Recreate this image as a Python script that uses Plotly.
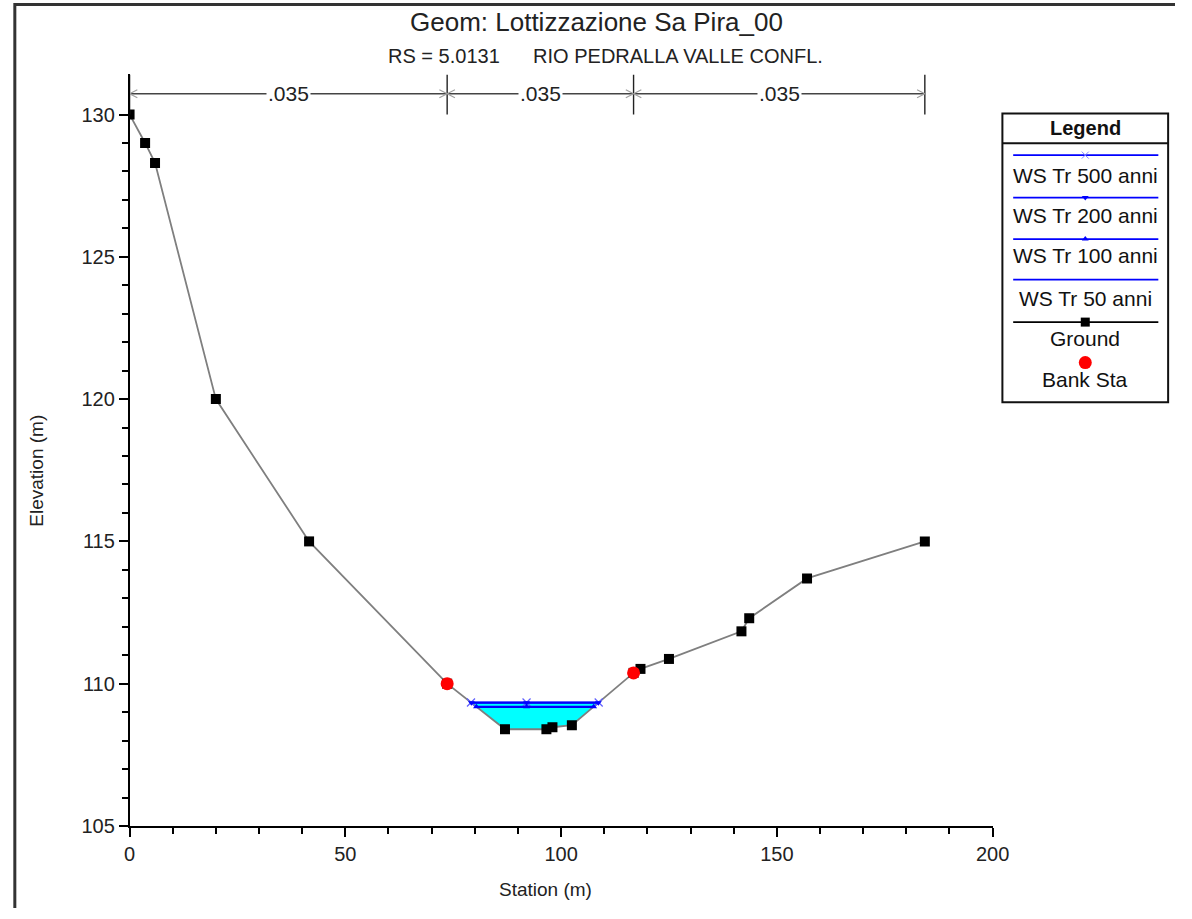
import numpy as np
import plotly.graph_objects as go

# ---- cross-section data -------------------------------------------------
ground_station = [0.0, 3.6, 5.9, 20.0, 41.6, 73.6, 87.0, 96.6, 98.0, 102.5,
                  116.8, 118.4, 125.0, 141.8, 143.6, 157.0, 184.3]
ground_elev = [130.0, 129.0, 128.3, 120.0, 115.0, 110.0, 108.4, 108.4, 108.47,
               108.54, 110.38, 110.52, 110.87, 111.84, 112.3, 113.7, 115.0]

bank_station = [73.6, 116.8]

# water surface elevations per return period
ws_names = ["WS Tr 500 anni", "WS Tr 200 anni", "WS Tr 100 anni", "WS Tr 50 anni"]
ws_elev = [109.34, 109.33, 109.19, 109.18]
ws_symbol = ["x-thin-open", "triangle-down", "triangle-up", None]
ws_mid_station = 92.0

# Manning's n zones
n_bounds = [0.0, 73.6, 116.8, 184.3]
n_values = [0.035, 0.035, 0.035]
n_line_elev = 130.73

title_text = "Geom: Lottizzazione Sa Pira_00"
subtitle_text = "RS = 5.0131      RIO PEDRALLA VALLE CONFL."

FONT = "Liberation Sans, Arial, Helvetica, sans-serif"
W, H = 1192, 919

# plot area in pixels
PX0, PX1 = 126, 1006
PY_TOP, PY_BOT = 75, 836
Y_MIN, Y_MAX = 105.0, 131.42

gs = np.array(ground_station)
ge = np.array(ground_elev)


def ws_edges(z):
    """Left/right stations where the water level z meets the ground."""
    i0 = int(np.argmin(ge))
    i = i0
    while ge[i] < z:
        i -= 1
    xl = gs[i] + (z - ge[i]) * (gs[i + 1] - gs[i]) / (ge[i + 1] - ge[i])
    j = i0
    while ge[j] < z:
        j += 1
    xr = gs[j - 1] + (z - ge[j - 1]) * (gs[j] - gs[j - 1]) / (ge[j] - ge[j - 1])
    return xl, xr, i, j


fig = go.Figure()

# water area (highest profile)
z_top = max(ws_elev)
xl, xr, il, jr = ws_edges(z_top)
fx = [xl] + list(gs[il + 1:jr]) + [xr]
fy = [z_top] + list(ge[il + 1:jr]) + [z_top]
fig.add_trace(go.Scatter(x=fx + [xl], y=fy + [z_top], mode="lines", fill="toself",
                         fillcolor="#00FFFF", line=dict(width=0), hoverinfo="skip",
                         showlegend=False))

# ground line
fig.add_trace(go.Scatter(x=ground_station, y=ground_elev, mode="lines+markers",
                         line=dict(color="#7f7f7f", width=1.8),
                         marker=dict(symbol="square", size=10, color="black"),
                         showlegend=False))

# water surface profiles
for name, z, sym in zip(ws_names, ws_elev, ws_symbol):
    a, b, _, _ = ws_edges(z)
    if sym == "x-thin-open":
        mk = dict(symbol=sym, size=8, color="#6060ff", line=dict(width=1.2, color="#6060ff"))
    elif sym:
        mk = dict(symbol=sym, size=6, color="#0000FF")
    else:
        mk = dict(size=1, opacity=0)
    fig.add_trace(go.Scatter(x=[a, ws_mid_station, b], y=[z, z, z],
                             mode="lines+markers" if sym else "lines",
                             line=dict(color="#0000FF", width=2),
                             marker=mk, name=name, showlegend=False))

# bank stations
bank_elev = list(np.interp(bank_station, gs, ge))
fig.add_trace(go.Scatter(x=bank_station, y=bank_elev, mode="markers",
                         marker=dict(symbol="circle", size=13, color="#FF0000"),
                         showlegend=False))

# Manning's n line with zone boundaries and arrowheads
fig.add_trace(go.Scatter(x=[n_bounds[0], n_bounds[-1]], y=[n_line_elev] * 2,
                         mode="lines", line=dict(color="#444", width=1.4),
                         cliponaxis=False, showlegend=False, hoverinfo="skip"))
vx, vy = [], []
for b in n_bounds:
    vx += [b, b, None]
    vy += [130.0, 131.4, None]
fig.add_trace(go.Scatter(x=vx, y=vy, mode="lines", line=dict(color="#222", width=1.4),
                         cliponaxis=False, showlegend=False, hoverinfo="skip"))
ax_, ay_ = [], []
dx, dy = 1.8, 0.14
for k, b in enumerate(n_bounds):
    if k > 0:  # arrow pointing right into the boundary
        ax_ += [b - dx, b, b - dx, None]
        ay_ += [n_line_elev + dy, n_line_elev, n_line_elev - dy, None]
    if k < len(n_bounds) - 1:  # arrow pointing left into the boundary
        ax_ += [b + dx, b, b + dx, None]
        ay_ += [n_line_elev + dy, n_line_elev, n_line_elev - dy, None]
fig.add_trace(go.Scatter(x=ax_, y=ay_, mode="lines", line=dict(color="#a0a0a0", width=1.2),
                         cliponaxis=False, showlegend=False, hoverinfo="skip"))

annotations = []
for a, b, n in zip(n_bounds[:-1], n_bounds[1:], n_values):
    annotations.append(dict(x=(a + b) / 2, y=n_line_elev, xref="x", yref="y",
                            text=f"{n:.3f}".lstrip("0"), showarrow=False,
                            font=dict(family=FONT, size=21, color="#222"),
                            bgcolor="white", borderpad=1))

# ---- legend panel (pixel coordinates on a full-page helper axis) ---------
LX0, LX1, LY0, LY1 = 1016, 1185, 115, 407
LXC = (LX0 + LX1) / 2
leg_items = [
    ("WS Tr 500 anni", 157, 178, "#0000FF", "x-thin-open"),
    ("WS Tr 200 anni", 200, 218, "#0000FF", "triangle-down"),
    ("WS Tr 100 anni", 242, 259, "#0000FF", "triangle-up"),
    ("WS Tr 50 anni", 283, 302, "#0000FF", None),
    ("Ground", 326, 343, "black", "square"),
    ("Bank Sta", None, 384, None, "circle"),
]
for label, ly, ty, col, sym in leg_items:
    if ly is not None:
        fig.add_trace(go.Scatter(x=[1027, 1175], y=[ly, ly], mode="lines",
                                 line=dict(color=col, width=1.6), xaxis="x2", yaxis="y2",
                                 showlegend=False, hoverinfo="skip"))
    if sym == "x-thin-open":
        mk = dict(symbol=sym, size=7, color="#8080ff", line=dict(width=1, color="#8080ff"))
    elif sym == "square":
        mk = dict(symbol="square", size=9, color="black")
    elif sym == "circle":
        mk = dict(symbol="circle", size=13, color="#FF0000")
        ly = 367
    elif sym:
        mk = dict(symbol=sym, size=6, color="#0000FF")
    if sym:
        fig.add_trace(go.Scatter(x=[LXC], y=[ly], mode="markers", marker=mk,
                                 xaxis="x2", yaxis="y2", showlegend=False, hoverinfo="skip"))
    annotations.append(dict(x=LXC / W, y=1 - ty / H, xref="paper", yref="paper",
                            text=label, showarrow=False, xanchor="center", yanchor="middle",
                            font=dict(family=FONT, size=21, color="#111")))
annotations.append(dict(x=LXC / W, y=1 - 130 / H, xref="paper", yref="paper",
                        text="<b>Legend</b>", showarrow=False, xanchor="center",
                        yanchor="middle", font=dict(family=FONT, size=20, color="#111")))

# titles
annotations += [
    dict(x=602 / W, y=1 - 22 / H, xref="paper", yref="paper", text=title_text,
         showarrow=False, xanchor="center", yanchor="middle",
         font=dict(family=FONT, size=26, color="#222")),
    dict(x=611 / W, y=1 - 57 / H, xref="paper", yref="paper", text=subtitle_text,
         showarrow=False, xanchor="center", yanchor="middle",
         font=dict(family=FONT, size=20, color="#222")),
    dict(x=550 / W, y=1 - 900 / H, xref="paper", yref="paper", text="Station (m)",
         showarrow=False, xanchor="center", yanchor="middle",
         font=dict(family=FONT, size=19, color="#222")),
    dict(x=31 / W, y=1 - 476 / H, xref="paper", yref="paper", text="Elevation (m)",
         showarrow=False, textangle=-90, xanchor="center", yanchor="middle",
         font=dict(family=FONT, size=19, color="#222")),
]


def px_x(p):
    return p / W


def px_y(p):
    return 1 - p / H


shapes = [
    # legend frame and header separator
    dict(type="rect", xref="paper", yref="paper", x0=px_x(LX0), x1=px_x(LX1),
         y0=px_y(LY1), y1=px_y(LY0), line=dict(color="#111", width=2)),
    dict(type="line", xref="paper", yref="paper", x0=px_x(LX0), x1=px_x(LX1),
         y0=px_y(145), y1=px_y(145), line=dict(color="#111", width=2)),
    # outer frame (left and top edges)
    dict(type="path", xref="paper", yref="paper",
         path=f"M {px_x(9)},{px_y(919)} L {px_x(9)},{px_y(4.5)} L {px_x(1192)},{px_y(4.5)}",
         line=dict(color="#333", width=3)),
]

axis_font = dict(family=FONT, size=20, color="#222")
fig.update_layout(
    width=W, height=H,
    margin=dict(l=0, r=0, t=0, b=0),
    paper_bgcolor="white", plot_bgcolor="rgba(0,0,0,0)",
    showlegend=False,
    xaxis=dict(domain=[PX0 / W, PX1 / W], range=[0, 200], tickvals=[0, 50, 100, 150, 200],
               showgrid=False, zeroline=False, showline=True, linecolor="black", linewidth=1.5,
               ticks="outside", ticklen=9, tickwidth=1.5, tickcolor="black", tickfont=axis_font,
               minor=dict(tickvals=[v for v in range(0, 201, 10) if v % 50], ticks="outside",
                          ticklen=6, tickwidth=1.5, tickcolor="black", showgrid=False),
               anchor="y", fixedrange=True),
    yaxis=dict(domain=[1 - PY_BOT / H, 1 - PY_TOP / H], range=[Y_MIN, Y_MAX],
               tickvals=[105, 110, 115, 120, 125, 130],
               showgrid=False, zeroline=False, showline=True, linecolor="black", linewidth=1.5,
               ticks="outside", ticklen=9, tickwidth=1.5, tickcolor="black", tickfont=axis_font,
               minor=dict(tickvals=[v for v in range(105, 131) if v % 5], ticks="outside",
                          ticklen=6, tickwidth=1.5, tickcolor="black", showgrid=False),
               anchor="x", fixedrange=True),
    xaxis2=dict(domain=[0, 1], range=[0, W], visible=False, anchor="y2", fixedrange=True),
    yaxis2=dict(domain=[0, 1], range=[H, 0], visible=False, anchor="x2", fixedrange=True),
    annotations=annotations,
    shapes=shapes,
)

# page without default body margin, so the figure fills the window exactly
fig.write_html("out.html",
               post_script="document.body.style.margin='0';"
                           "document.body.style.overflow='hidden';")
